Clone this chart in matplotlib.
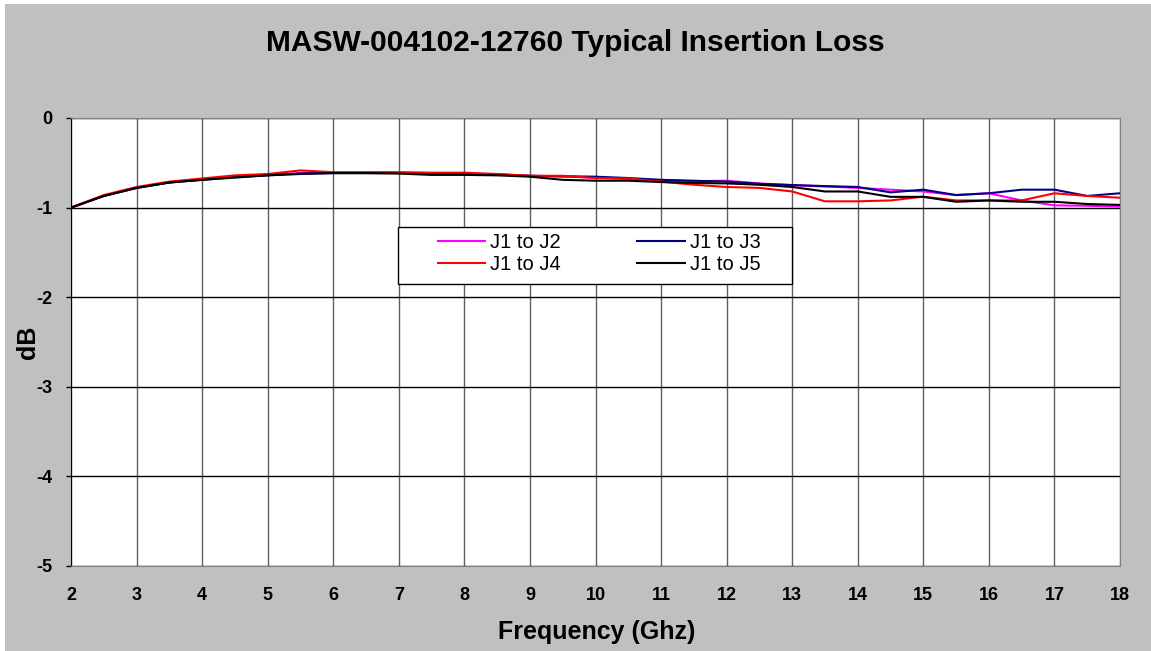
import numpy as np
import matplotlib.pyplot as plt
from matplotlib.patches import Rectangle

plt.rcParams['font.family'] = ['Liberation Sans', 'DejaVu Sans']
plt.rcParams['axes.unicode_minus'] = False

freq = [2, 2.5, 3, 3.5, 4, 4.5, 5, 5.5, 6, 6.5, 7, 7.5, 8, 8.5, 9, 9.5, 10,
        10.5, 11, 11.5, 12, 12.5, 13, 13.5, 14, 14.5, 15, 15.5, 16, 16.5, 17, 17.5, 18]

j1_j2 = [-1.00, -0.87, -0.78, -0.72, -0.685, -0.655, -0.635, -0.615, -0.61, -0.61, -0.61,
         -0.615, -0.62, -0.63, -0.645, -0.655, -0.665, -0.68, -0.695, -0.705, -0.70, -0.73,
         -0.75, -0.765, -0.78, -0.80, -0.82, -0.86, -0.84, -0.92, -0.975, -0.98, -0.99]
j1_j3 = [-1.00, -0.87, -0.78, -0.72, -0.69, -0.66, -0.64, -0.625, -0.615, -0.615, -0.615,
         -0.62, -0.625, -0.63, -0.645, -0.65, -0.655, -0.67, -0.69, -0.70, -0.71, -0.735,
         -0.748, -0.76, -0.77, -0.83, -0.80, -0.86, -0.84, -0.80, -0.80, -0.87, -0.84]
j1_j4 = [-1.00, -0.86, -0.77, -0.71, -0.675, -0.64, -0.625, -0.585, -0.605, -0.605, -0.605,
         -0.61, -0.61, -0.625, -0.645, -0.645, -0.67, -0.675, -0.71, -0.745, -0.77, -0.78,
         -0.82, -0.93, -0.93, -0.92, -0.878, -0.92, -0.92, -0.92, -0.84, -0.87, -0.89]
j1_j5 = [-1.00, -0.87, -0.78, -0.72, -0.69, -0.665, -0.64, -0.62, -0.615, -0.615, -0.62,
         -0.635, -0.635, -0.64, -0.655, -0.69, -0.70, -0.70, -0.715, -0.725, -0.73, -0.745,
         -0.77, -0.82, -0.82, -0.88, -0.88, -0.935, -0.92, -0.935, -0.935, -0.96, -0.97]

series = [("J1 to J2", j1_j2, "#FF00FF"),
          ("J1 to J3", j1_j3, "#000080"),
          ("J1 to J4", j1_j4, "#FF0000"),
          ("J1 to J5", j1_j5, "#000000")]

W, H = 1151, 651
fig = plt.figure(figsize=(W / 100, H / 100), dpi=100, facecolor="white")
fig.patches.append(Rectangle((5 / W, 0), 1, 1 - 4 / H, transform=fig.transFigure,
                             facecolor="#C0C0C0", edgecolor="none", zorder=-10))

ax = fig.add_axes([71 / W, 1 - 566 / H, 1049 / W, 448 / H])
ax.set_facecolor("white")

lines = {}
for name, vals, col in series:
    lines[name], = ax.plot(freq, vals, color=col, lw=1.5, label=name)

ax.set_xlim(2, 18)
ax.set_ylim(-5, 0)
ax.set_xticks(range(2, 19))
ax.set_yticks(range(-5, 1))
ax.xaxis.grid(True, color="#606060", lw=1)
ax.yaxis.grid(True, color="black", lw=1)
ax.set_axisbelow(True)
for s in ax.spines.values():
    s.set_color("#808080")
ax.spines["left"].set_color("black")
ax.tick_params(axis="y", length=3.6, width=1, labelsize=13, pad=9.5)
ax.tick_params(axis="x", length=0, labelsize=13, pad=15)
for lbl in ax.get_xticklabels() + ax.get_yticklabels():
    lbl.set_fontweight("bold")

ax.set_xlabel("Frequency (Ghz)", fontsize=18, fontweight="bold", va="center")
ax.xaxis.set_label_coords((597 - 71) / 1049, -(632 - 566) / 448)
ax.set_ylabel("dB", fontsize=18, fontweight="bold", va="center")
ax.yaxis.set_label_coords((28 - 71) / 1049, 0.5)
fig.text(0.5, 1 - 43 / H, "MASW-004102-12760 Typical Insertion Loss", fontsize=21.5,
         fontweight="bold", ha="center", va="center")

# legend filled row by row like the original
order = ["J1 to J2", "J1 to J4", "J1 to J3", "J1 to J5"]
leg = ax.legend([lines[k] for k in order], order, ncol=2, loc="center left",
                bbox_to_anchor=((438 - 71) / 1049, (566 - 253.5) / 448),
                frameon=False, fontsize=14.5, handlelength=2.34, handletextpad=0.25,
                columnspacing=3.8, borderpad=0, borderaxespad=0, labelspacing=0.15)
leg.set_zorder(6)
box = Rectangle((398 / W, 1 - 284 / H), (792 - 398) / W, (284 - 227) / H,
                transform=fig.transFigure, facecolor="white", edgecolor="black",
                lw=1, zorder=5, clip_on=False)
ax.add_patch(box)

plt.savefig("out.png", dpi=100, facecolor=fig.get_facecolor())
